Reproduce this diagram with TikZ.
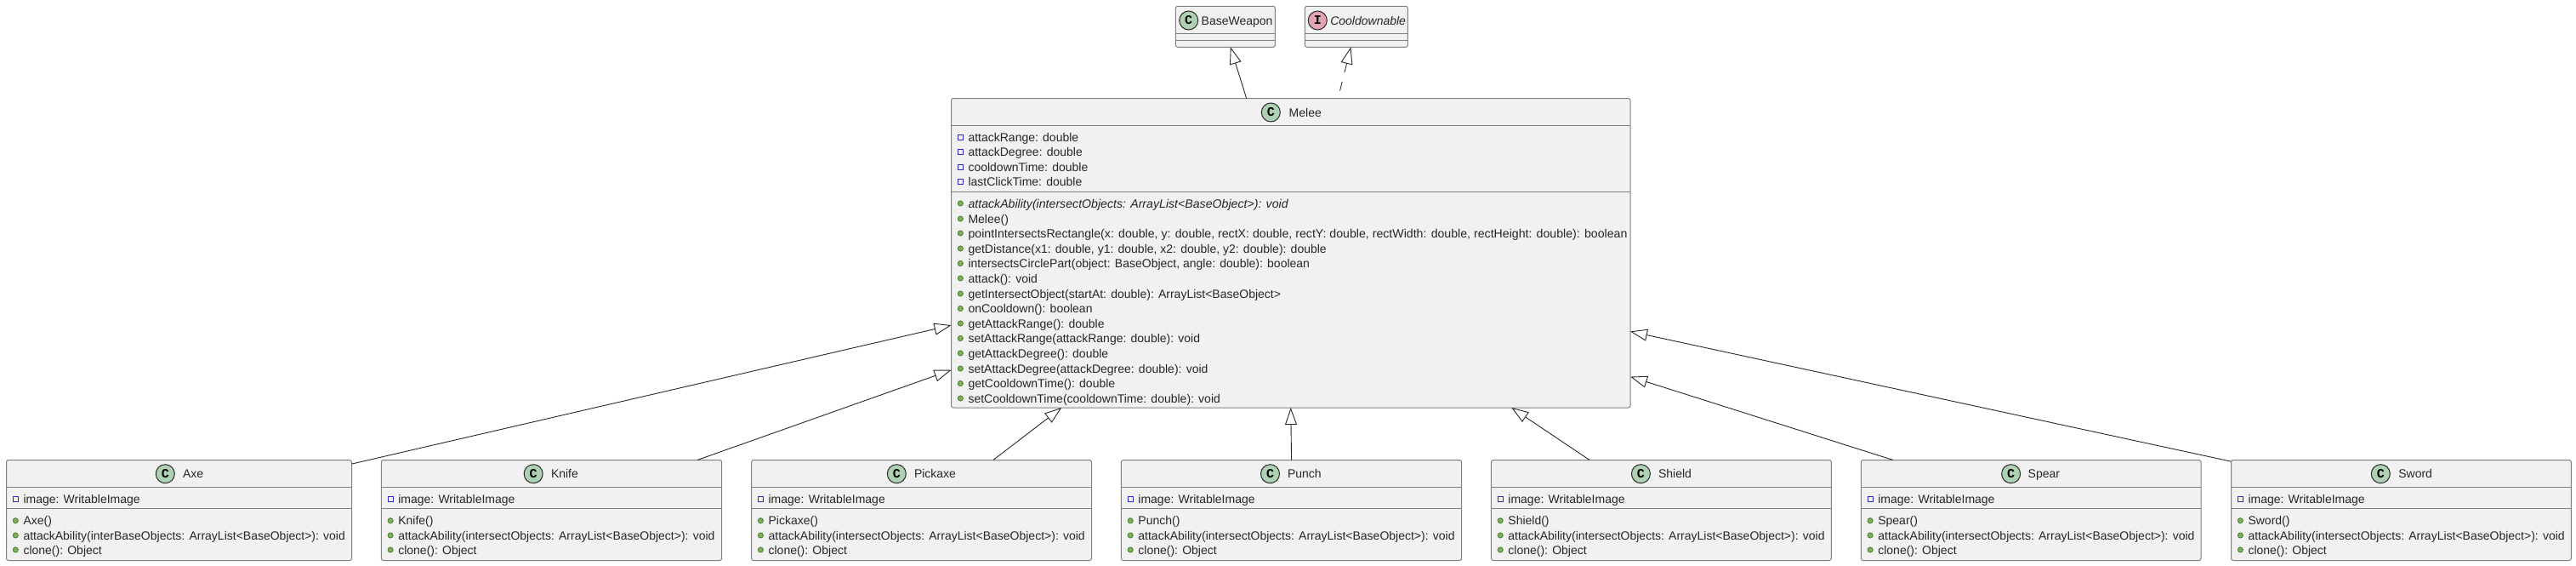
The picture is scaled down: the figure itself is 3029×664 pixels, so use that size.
\documentclass[tikz,border=0pt]{standalone}
\usepackage{fontspec}
\setmainfont{Liberation Sans}
\newfontfamily\glyphfont{Liberation Mono}[BoldFont={Liberation Mono Bold}]
\usetikzlibrary{arrows.meta}
\definecolor{boxfill}{HTML}{F1F1F1}
\definecolor{boxline}{HTML}{808080}
\definecolor{inkline}{HTML}{282828}
\definecolor{lbltext}{HTML}{262626}
\definecolor{classfill}{HTML}{ADD1B2}
\definecolor{ifacefill}{HTML}{E3A5B4}
\definecolor{privline}{HTML}{2A2AC0}
\definecolor{pubfill}{HTML}{84AE5A}
\definecolor{publine}{HTML}{4E8A3A}
\tikzset{
  umlbox/.style={draw=boxline,fill=boxfill,line width=1pt,rounded corners=2.5pt,inner sep=0pt,outer sep=0pt},
  sepline/.style={draw=boxline,line width=1pt},
  lbl/.style={anchor=base west,inner sep=0pt,outer sep=0pt,text=lbltext,font=\fontsize{14}{16}\selectfont},
  badge/.style={circle,draw=inkline,line width=1pt,minimum size=22pt,inner sep=0pt,outer sep=0pt,text=black,font=\glyphfont\bfseries\fontsize{15}{15}\selectfont},
  priv/.style={draw=privline,line width=1pt,fill=none,rectangle,minimum size=6pt,inner sep=0pt,outer sep=0pt},
  pub/.style={draw=publine,fill=pubfill,line width=1pt,circle,minimum size=6pt,inner sep=0pt,outer sep=0pt},
  inherit/.style={draw=inkline,line width=0.9pt,-{Triangle[open,length=20pt,width=14pt]}},
  realize/.style={draw=inkline,line width=0.9pt,dash pattern=on 11pt off 11pt,{Triangle[open,length=20pt,width=14pt]}-},
}
% name, left, right, top, bottom
\newcommand{\umlbody}[5]{\node[umlbox,minimum width={#3-#2},minimum height={#5-#4}] (#1) at ({(#2+#3)/2},{(#4+#5)/2}) {};}
% name, left, right, y
\newcommand{\umlsep}[4]{\draw[sepline] (#2,#4) -- (#3,#4);}
% name, x of badge, text x, y, letter, fill, title
\newcommand{\umltitle}[7]{\node[badge,fill=#6] (#1-badge) at (#2,#4) {#5};\node[lbl] (#1-title) at (#3,#4+5) {#7};}
% name, left, y, text
\newcommand{\umlfield}[4]{\node[priv] (#1-icon) at (#2+10.8,#3) {};\node[lbl] (#1) at (#2+20,#3+5) {#4};}
\newcommand{\umlmethod}[4]{\node[pub] (#1-icon) at (#2+10.8,#3) {};\node[lbl] (#1) at (#2+20,#3+5) {#4};}
% name,left,right,badge x,text x,title, ctor, argname
\newcommand{\weapon}[8]{%
  \umlbody{#1}{#2}{#3}{540.5}{658.5}
  \umlsep{#1}{#2}{#3}{572.5}
  \umlsep{#1}{#2}{#3}{597.5}
  \umltitle{#1}{#4}{#5}{556.7}{C}{classfill}{#6}
  \umlfield{#1-f}{#2}{586}{image: WritableImage}
  \umlmethod{#1-ctor}{#2}{611.7}{#7()}
  \umlmethod{#1-atk}{#2}{629}{attackAbility(#8: ArrayList<BaseObject>): void}
  \umlmethod{#1-cl}{#2}{646}{clone(): Object}
}
\begin{document}
\begin{tikzpicture}[x=1pt,y=-1pt]
\useasboundingbox (0,0) rectangle (3029,664);
\fill[white] (0,0) rectangle (3029,664);
% top classes
\umlbody{base}{1382.3}{1499.3}{7.3}{55.3}
\umlsep{base}{1382.3}{1499.3}{39.3}
\umlsep{base}{1382.3}{1499.3}{47.3}
\umltitle{base}{1397.7}{1412.7}{24}{C}{classfill}{BaseWeapon}
\umlbody{cool}{1534.3}{1655.3}{7.3}{55.3}
\umlsep{cool}{1534.3}{1655.3}{39.3}
\umlsep{cool}{1534.3}{1655.3}{47.3}
\umltitle{cool}{1549.3}{1564.3}{24}{I}{ifacefill}{\itshape Cooldownable}
% Melee
\umlbody{melee}{1118.5}{1917}{115.5}{479}
\umlsep{melee}{1118.5}{1917}{147.5}
\umlsep{melee}{1118.5}{1917}{225.5}
\umltitle{melee}{1494.3}{1515.7}{132}{C}{classfill}{Melee}
\umlfield{m-f1}{1118.5}{161}{attackRange: double}
\umlfield{m-f2}{1118.5}{178.3}{attackDegree: double}
\umlfield{m-f3}{1118.5}{196.3}{cooldownTime: double}
\umlfield{m-f4}{1118.5}{213.3}{lastClickTime: double}
\umlmethod{m-m1}{1118.5}{239}{\fontsize{14.15}{16}\selectfont\itshape attackAbility(intersectObjects: ArrayList<BaseObject>): void}
\umlmethod{m-m2}{1118.5}{257}{Melee()}
\umlmethod{m-m3}{1118.5}{274}{\fontsize{14.15}{16}\selectfont pointIntersectsRectangle(x: double, y: double, rectX: double, rectY: double, rectWidth: double, rectHeight: double): boolean}
\umlmethod{m-m4}{1118.5}{292}{getDistance(x1: double, y1: double, x2: double, y2: double): double}
\umlmethod{m-m5}{1118.5}{309.5}{intersectsCirclePart(object: BaseObject, angle: double): boolean}
\umlmethod{m-m6}{1118.5}{327}{attack(): void}
\umlmethod{m-m7}{1118.5}{345}{getIntersectObject(startAt: double): ArrayList<BaseObject>}
\umlmethod{m-m8}{1118.5}{362.5}{onCooldown(): boolean}
\umlmethod{m-m9}{1118.5}{380}{getAttackRange(): double}
\umlmethod{m-m10}{1118.5}{397.5}{setAttackRange(attackRange: double): void}
\umlmethod{m-m11}{1118.5}{415}{getAttackDegree(): double}
\umlmethod{m-m12}{1118.5}{433}{setAttackDegree(attackDegree: double): void}
\umlmethod{m-m13}{1118.5}{450.5}{getCooldownTime(): double}
\umlmethod{m-m14}{1118.5}{468}{setCooldownTime(cooldownTime: double): void}
% bottom classes
\weapon{axe}{7.5}{413.5}{194.3}{215}{Axe}{Axe}{interBaseObjects}
\weapon{knife}{448.3}{848.7}{627.2}{648}{Knife}{Knife}{intersectObjects}
\weapon{pick}{883.6}{1283.5}{1054.3}{1075}{Pickaxe}{Pickaxe}{intersectObjects}
\weapon{punch}{1318.4}{1718.7}{1493.5}{1514}{Punch}{Punch}{intersectObjects}
\weapon{shield}{1753.4}{2153.3}{1929.4}{1950}{Shield}{Shield}{intersectObjects}
\weapon{spear}{2188.3}{2588}{2364.6}{2384.7}{Spear}{Spear}{intersectObjects}
\weapon{sword}{2623.5}{3023.3}{2799.3}{2820.3}{Sword}{Sword}{intersectObjects}
% connectors
\draw[inherit] (melee.106.1) -- (base.284.5);
\draw[realize] (cool.255.7) -- (melee.73.96);
\draw[inherit] (axe.15.29) -- (melee.192.16);
\draw[inherit] (knife.19.3) -- (melee.199.16);
\draw[inherit] (pick.35.15) -- (melee.214.62);
\draw[inherit] (punch.90) -- (melee.270.2);
\draw[inherit] (shield.145.14) -- (melee.325.41);
\draw[inherit] (spear.160.72) -- (melee.340.84);
\draw[inherit] (sword.164.56) -- (melee.347.88);
\end{tikzpicture}
\end{document}
